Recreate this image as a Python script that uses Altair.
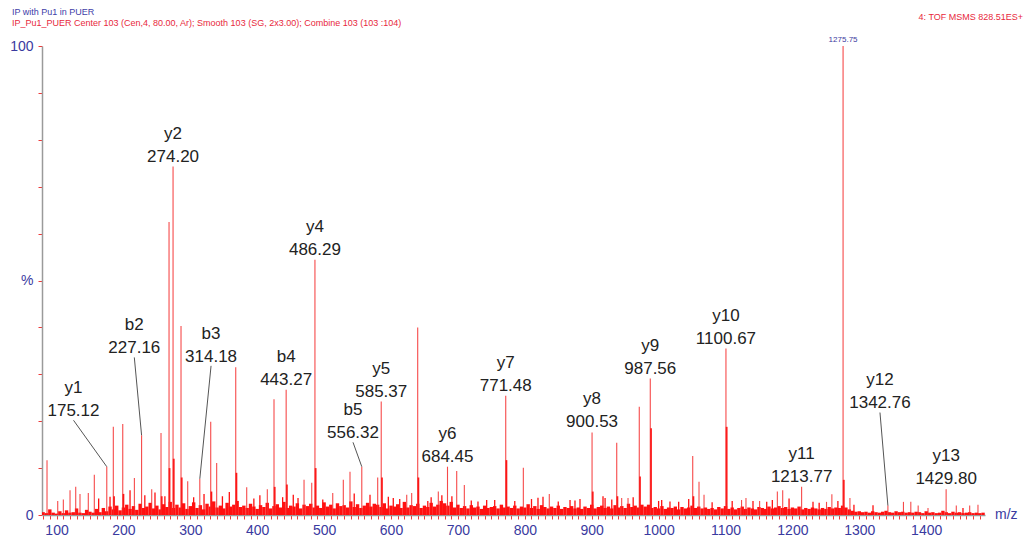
import altair as alt
import pandas as pd

# ---------------- data ----------------
peak_mz = [85.8, 101.8, 110.2, 120.2, 128.7, 135.1, 147.5, 156.5, 175.12, 184.9,
           199.0, 216.4, 227.16, 242.3, 256.2, 268.2, 274.2, 286.1, 296.1, 314.18,
           330.5, 339.4, 367.9, 384.3, 415.1, 425.1, 443.27, 470.0, 481.5, 486.29,
           512.9, 528.7, 538.7, 556.32, 580.1, 585.37, 623.5, 630.9, 639.9, 670.7,
           684.45, 698.2, 709.6, 771.48, 797.8, 836.6, 900.53, 937.4, 944.8, 954.3,
           971.1, 987.56, 1051.0, 1060.4, 1067.9, 1100.67, 1124.0, 1130.6, 1151.0, 1177.5,
           1185.5, 1213.77, 1251.0, 1259.0, 1275.75, 1286.0, 1342.76, 1366.0, 1377.0, 1388.0,
           1402.7, 1429.80, 1445.0, 1465.0, 1477.4]
peak_int = [11.7, 3.0, 3.3, 5.3, 6.0, 4.5, 4.7, 8.6, 10.3, 18.8,
            19.4, 7.9, 17.0, 5.5, 17.5, 62.5, 74.3, 40.3, 7.2, 7.7,
            19.9, 11.1, 31.5, 5.9, 5.5, 24.7, 26.7, 7.5, 6.9, 54.4,
            4.7, 7.5, 9.2, 10.3, 8.0, 24.2, 4.3, 4.7, 40.0, 5.0,
            10.3, 9.4, 6.4, 25.4, 10.1, 4.5, 17.6, 15.4, 3.6, 3.6,
            23.1, 29.1, 12.6, 7.1, 4.3, 35.5, 3.2, 3.6, 3.0, 5.0,
            5.3, 6.0, 2.8, 4.4, 100.0, 3.6, 2.0, 2.8, 2.8, 2.0,
            1.5, 5.5, 2.0, 2.0, 2.2]

# smaller spikes standing out of the baseline
small_mz = [163, 180, 209.9, 232, 247.2, 262, 305, 320.5, 348, 358.3,
            395, 404, 438, 453.9, 461, 498, 545, 568.6, 596, 603.4,
            613, 655, 660, 676, 691, 720, 730, 743, 755, 785,
            810, 819.7, 827.2, 850, 867.6, 875, 882.5, 916.9, 920, 930,
            962, 1000, 1004.6, 1017, 1030, 1045, 1080, 1110, 1141.1, 1161.6,
            1170, 1195, 1230.8, 1240, 1268, 1292, 1320.5, 1455]
small_int = [3.5, 3.9, 5.3, 4.2, 4.8, 4.0, 3.8, 4.5, 4.0, 4.9,
             3.5, 4.2, 3.8, 4.3, 3.6, 3.3, 4.6, 4.3, 3.9, 3.6,
             3.4, 3.0, 3.8, 4.2, 4.0, 3.1, 2.9, 3.2, 3.2, 3.0,
             3.4, 3.7, 3.9, 2.9, 3.2, 3.1, 3.4, 4.0, 3.6, 3.3,
             3.8, 3.0, 3.2, 2.9, 2.8, 3.4, 2.7, 3.0, 3.0, 2.8,
             3.2, 3.5, 2.8, 2.6, 3.0, 2.2, 2.1, 1.5]

# darker, lower parts beside the tall peaks
shoulder_mz = [185.9, 200.0, 257.2, 268.9, 275.2, 287.1, 331.5, 368.9, 426.1, 444.3,
               487.3, 586.4, 640.9, 772.5, 901.5, 938.4, 972.1, 988.6, 1052.0, 1101.7, 1276.75]
shoulder_int = [4.0, 4.5, 4.0, 10.0, 12.0, 8.0, 5.0, 9.0, 6.0, 6.5,
                10.0, 8.0, 8.0, 11.7, 5.0, 4.0, 8.2, 18.5, 4.0, 18.8, 7.5]

# baseline noise, one value every 5 m/z starting at 80
grass_start = 80
grass_step = 5
grass_h = [
    0.6, 0.4, 1.2, 0.5, 0.3, 0.8, 0.4, 1.0, 0.5, 0.6, 1.4, 0.5, 0.4, 1.1, 0.7, 0.5, 1.3, 0.6, 1.5, 0.8,
    1.8, 1.2, 2.0, 1.0, 1.6, 2.2, 1.3, 1.9, 1.1, 2.4, 1.5, 1.8, 2.6, 1.4, 2.0, 1.2, 2.3, 1.7, 2.8, 1.5,
    2.2, 1.6, 2.5, 1.3, 1.9, 2.7, 1.5, 2.1, 1.2, 2.4, 1.8, 2.9, 1.6, 2.0, 1.4, 2.6, 1.8, 2.2, 3.0, 1.7,
    2.0, 1.5, 2.4, 1.8, 1.3, 2.1, 1.7, 2.6, 1.4, 1.9, 2.3, 1.6, 2.8, 1.5, 2.0, 1.8, 2.5, 1.4, 2.2, 1.9,
    2.4, 1.6, 2.0, 1.5, 2.7, 1.8, 2.2, 1.4, 2.5, 1.9, 2.1, 1.6, 2.9, 1.7, 2.3, 1.5, 2.0, 2.6, 1.8, 2.4,
    2.2, 1.7, 2.5, 1.4, 2.0, 1.8, 2.3, 1.5, 2.8, 1.6, 2.1, 1.9, 2.4, 1.5, 2.0, 1.7, 2.6, 1.8, 2.2, 3.0,
    2.5, 2.0, 2.8, 1.6, 2.2, 1.5, 1.9, 1.4, 2.1, 1.6, 1.8, 1.3, 2.0, 1.5, 1.7, 1.9, 1.4, 2.2, 1.6, 1.8,
    1.5, 2.0, 1.4, 1.8, 1.6, 2.3, 1.5, 1.9, 1.3, 2.1, 1.7, 1.4, 1.8, 1.5, 2.0, 1.3, 1.7, 1.5, 1.9, 1.4,
    1.6, 1.3, 1.8, 1.5, 2.2, 1.4, 1.7, 2.0, 1.5, 1.8, 1.4, 2.1, 1.6, 1.9, 1.5, 2.4, 1.7, 2.0, 1.6, 2.2,
    1.8, 2.2, 1.5, 1.7, 1.4, 1.9, 1.3, 1.6, 1.5, 1.8, 1.2, 1.7, 1.4, 1.6, 2.0, 1.5, 1.8, 1.4, 1.6, 1.3,
    1.5, 1.2, 1.7, 1.4, 1.9, 1.3, 1.6, 1.2, 1.5, 1.8, 1.3, 1.6, 1.4, 1.2, 1.7, 1.5, 1.3, 1.8, 1.4, 1.6,
    1.9, 1.5, 1.7, 1.3, 1.6, 1.4, 1.8, 1.2, 1.5, 1.3, 1.6, 1.4, 1.2, 1.5, 1.3, 1.7, 1.4, 1.6, 1.5, 2.0,
    1.6, 1.2, 0.9, 0.7, 0.8, 0.6, 0.7, 0.5, 0.8, 0.6, 0.5, 0.7, 0.9, 0.6, 0.5, 0.8, 0.6, 0.7, 0.5, 0.6,
    0.5, 0.7, 0.6, 0.4, 0.8, 0.5, 0.6, 0.4, 0.5, 0.9, 0.6, 0.4, 0.7, 0.5, 0.6, 0.4, 0.5, 0.6, 0.4, 0.5,
    0.4, 0.5,
]

# labels placed right above their peak
direct_names = ["y2", "b4", "y4", "y5", "y6", "y7", "y8", "y9", "y10", "y11", "y13"]
direct_vals = ["274.20", "443.27", "486.29", "585.37", "684.45", "771.48", "900.53",
               "987.56", "1100.67", "1213.77", "1429.80"]
direct_mz = [274.2, 443.27, 486.29, 585.37, 684.45, 771.48, 900.53, 987.56, 1100.67, 1213.77, 1429.80]
direct_int = [74.3, 26.7, 54.4, 24.2, 10.3, 25.4, 17.6, 29.1, 35.5, 6.0, 5.5]

# labels joined to their peak by a leader line
leader_names = ["y1", "b2", "b3", "b5", "y12"]
leader_vals = ["175.12", "227.16", "314.18", "556.32", "1342.76"]
leader_mz = [175.12, 227.16, 314.18, 556.32, 1342.76]
leader_int = [10.3, 17.0, 7.7, 10.3, 2.0]
leader_lx = [125.4, 216.3, 331.0, 543.2, 1330.9]
leader_ly = [21.1, 34.5, 32.7, 16.4, 22.75]

base_peak_mz = [1275.75]
base_peak_int = [100.0]
base_peak_txt = ["1275.75"]

x_ticks = list(range(80, 1490, 10))
y_ticks = list(range(0, 101, 10))

# ---------------- tables ----------------
peaks = pd.DataFrame({"mz": peak_mz, "int": peak_int})
smalls = pd.DataFrame({"mz": small_mz, "int": small_int})
shoulders = pd.DataFrame({"mz": shoulder_mz, "int": shoulder_int})
grass = pd.DataFrame({"mz": [grass_start + grass_step * i for i in range(len(grass_h))],
                      "int": grass_h})
direct = pd.DataFrame({"name": direct_names, "val": direct_vals, "mz": direct_mz, "int": direct_int})
leader = pd.DataFrame({"name": leader_names, "val": leader_vals, "mz": leader_mz,
                       "int": leader_int, "lx": leader_lx, "ly": leader_ly})
leader["ly0"] = leader["ly"] - 0.9
basepk = pd.DataFrame({"mz": base_peak_mz, "int": base_peak_int, "t": base_peak_txt})

FONT = "Liberation Sans"
BLUE = "#3a3aa0"
RED = "#ff1010"

xs = alt.Scale(domain=[78.3, 1487.9], nice=False, zero=False)
ys = alt.Scale(domain=[0, 100], nice=False, zero=True)

xaxis = alt.Axis(values=x_ticks, format="d",
                 labelExpr="datum.value % 100 === 0 ? datum.label : ''",
                 labelOverlap=False, labelFlush=False, title=None, grid=False,
                 domainColor="#9a9a9a", domainWidth=1.5, tickColor="#ee3a3a",
                 tickSize=4, tickWidth=1, labelColor=BLUE, labelFontSize=14,
                 labelFont=FONT, labelPadding=4)
yaxis = alt.Axis(values=y_ticks,
                 labelExpr="datum.value == 50 ? '%' : ((datum.value == 0 || datum.value == 100) ? datum.label : '')",
                 labelOverlap=False, labelFlush=False, title=None, grid=False,
                 domainColor="#9a9a9a", domainWidth=1.5, tickColor="#ee3a3a",
                 tickSize=4, tickWidth=1, labelColor=BLUE, labelFontSize=14,
                 labelFont=FONT, labelPadding=5)


def X(f):
    return alt.X(f, scale=xs, axis=xaxis)


def Y(f):
    return alt.Y(f, scale=ys, axis=yaxis)


grass_layer = alt.Chart(grass).mark_rule(color=RED, strokeWidth=3.4, clip=True).encode(
    x=X("mz:Q"), y=Y("int:Q"), y2=alt.datum(0))
small_layer = alt.Chart(smalls).mark_rule(color=RED, strokeWidth=1.3).encode(
    x=X("mz:Q"), y=Y("int:Q"), y2=alt.datum(0))
shoulder_layer = alt.Chart(shoulders).mark_rule(color=RED, strokeWidth=1.8).encode(
    x=X("mz:Q"), y=Y("int:Q"), y2=alt.datum(0))
peak_layer = alt.Chart(peaks).mark_rule(color="#f42a2a", strokeWidth=1.1, opacity=0.85).encode(
    x=X("mz:Q"), y=Y("int:Q"), y2=alt.datum(0))

lead_lines = alt.Chart(leader).mark_rule(color="#555555", strokeWidth=1).encode(
    x=X("lx:Q"), y=Y("ly0:Q"), x2="mz:Q", y2="int:Q")

txt = dict(font=FONT, fontSize=17, color="#222222", align="center", baseline="alphabetic")
direct_val = alt.Chart(direct).mark_text(dy=-5, **txt).encode(
    x=X("mz:Q"), y=Y("int:Q"), text="val:N")
direct_name = alt.Chart(direct).mark_text(dy=-28, **txt).encode(
    x=X("mz:Q"), y=Y("int:Q"), text="name:N")
lead_val = alt.Chart(leader).mark_text(dy=0, **txt).encode(
    x=X("lx:Q"), y=Y("ly:Q"), text="val:N")
lead_name = alt.Chart(leader).mark_text(dy=-23, **txt).encode(
    x=X("lx:Q"), y=Y("ly:Q"), text="name:N")

base_lbl = alt.Chart(basepk).mark_text(font=FONT, fontSize=8, color=BLUE, align="center",
                                       baseline="alphabetic", dy=-4).encode(
    x=X("mz:Q"), y=Y("int:Q"), text="t:N")

hdr = pd.DataFrame({"t": ["IP with Pu1 in PUER"]})
hdr2 = pd.DataFrame({"t": ["IP_Pu1_PUER Center 103 (Cen,4, 80.00, Ar);  Smooth 103 (SG, 2x3.00); Combine 103 (103 :104)"]})
hdr3 = pd.DataFrame({"t": ["4: TOF MSMS 828.51ES+"]})
mzl = pd.DataFrame({"t": ["m/z"]})

h1 = alt.Chart(hdr).mark_text(font=FONT, fontSize=9, color="#4040a8", align="left",
                              baseline="alphabetic").encode(
    x=alt.value(-30), y=alt.value(-31), text="t:N")
h2 = alt.Chart(hdr2).mark_text(font=FONT, fontSize=9, color="#e8283c", align="left",
                               baseline="alphabetic").encode(
    x=alt.value(-30), y=alt.value(-20), text="t:N")
h3 = alt.Chart(hdr3).mark_text(font=FONT, fontSize=9, color="#e8283c", align="right",
                               baseline="alphabetic").encode(
    x=alt.value(981), y=alt.value(-26.5), text="t:N")
mz_lbl = alt.Chart(mzl).mark_text(font=FONT, fontSize=14, color=BLUE, align="left",
                                  baseline="middle").encode(
    x=alt.value(953), y=alt.value(469), text="t:N")

chart = alt.layer(
    grass_layer, small_layer, shoulder_layer, peak_layer, lead_lines,
    direct_val, direct_name, lead_val, lead_name, base_lbl,
    h1, h2, h3, mz_lbl,
).properties(
    width=943, height=469,
    autosize=alt.AutoSizeParams(type="none"),
    padding={"left": 34, "top": 38, "right": 39, "bottom": 30},
    background="white",
).configure_view(strokeWidth=0)

chart.save("out.html", embed_options={"renderer": "svg", "actions": False})
